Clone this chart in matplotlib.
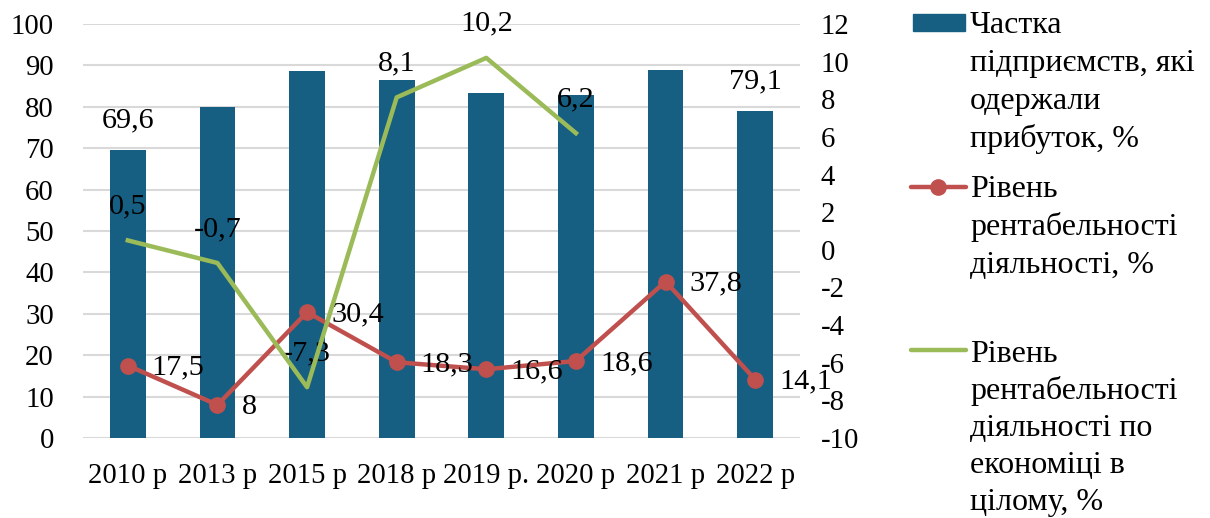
import matplotlib
matplotlib.use("Agg")
import matplotlib.pyplot as plt
from matplotlib.patches import Rectangle
from matplotlib.lines import Line2D
import numpy as np

plt.rcParams['font.family'] = ['Liberation Serif', 'DejaVu Serif']
plt.rcParams['axes.unicode_minus'] = False

categories = ["2010 р", "2013 р", "2015 р", "2018 р", "2019 р.", "2020 р", "2021 р", "2022 р"]
share_profitable = [69.6, 80.0, 88.7, 86.5, 83.3, 82.9, 88.8, 79.1]
share_labels = ["69,6", "", "", "", "", "", "", "79,1"]
profitability = [17.5, 8.0, 30.4, 18.3, 16.6, 18.6, 37.8, 14.1]
profitability_labels = ["17,5", "8", "30,4", "18,3", "16,6", "18,6", "37,8", "14,1"]
economy = [0.5, -0.7, -7.3, 8.1, 10.2, 6.2]
economy_labels = ["0,5", "-0,7", "-7,3", "8,1", "10,2", "6,2"]

legend_bar = ["Частка", "підприємств, які", "одержали", "прибуток, %"]
legend_red = ["Рівень", "рентабельності", "діяльності, %"]
legend_green = ["Рівень", "рентабельності", "діяльності по", "економіці в", "цілому, %"]

BAR = "#175f82"
RED = "#c0504d"
GREEN = "#9bbb59"
FS_TICK = 20.7
FS_LAB = 21.8
FS_LEG = 23

W, H = 1210, 518
fig = plt.figure(figsize=(W / 100, H / 100), dpi=100)
ax = fig.add_axes([83 / W, 1 - 438 / H, (800 - 83) / W, (438 - 24) / H])
ax2 = ax.twinx()

x = np.arange(len(categories))
ax.bar(x, share_profitable, width=0.4, color=BAR, zorder=2)
ax.set_xlim(-0.5, len(categories) - 0.5)
ax.set_ylim(0, 100)
ax.set_yticks(np.arange(0, 101, 10))
ax.grid(axis='y', color='#d9d9d9', linewidth=1.5, zorder=0)
ax.set_axisbelow(True)
ax.set_xticks(x)
ax.set_xticklabels(categories, fontsize=FS_TICK)
ax.tick_params(axis='y', labelsize=FS_TICK, length=0, pad=21)
ax.tick_params(axis='x', length=0, pad=18)
for s in ax.spines.values():
    s.set_visible(False)
for s in ax2.spines.values():
    s.set_visible(False)

ax.plot(x, profitability, color=RED, linewidth=3.2, marker='o', markersize=11, zorder=3)

ax2.plot(x[:len(economy)], economy, color=GREEN, linewidth=3.2, zorder=3)
ax2.set_ylim(-10, 12)
ax2.set_yticks(np.arange(-10, 13, 2))
ax2.tick_params(axis='y', labelsize=FS_TICK, length=0, pad=15)

for i, (v, t) in enumerate(zip(share_profitable, share_labels)):
    if t:
        ax.annotate(t, (x[i], v), xytext=(0, 29), textcoords='offset pixels',
                    ha='center', va='center', fontsize=FS_LAB, zorder=5)

for i, (v, t) in enumerate(zip(profitability, profitability_labels)):
    ax.annotate(t, (x[i], v), xytext=(24, -2), textcoords='offset pixels',
                ha='left', va='center', fontsize=FS_LAB, zorder=5)

for i, (v, t) in enumerate(zip(economy, economy_labels)):
    ax2.annotate(t, (x[i], v), xytext=(0, 34), textcoords='offset pixels',
                 ha='center', va='center', fontsize=FS_LAB, zorder=1)

# legend (manual, in figure pixel coords)
def fx(px):
    return px / W

def fy(py):
    return 1 - py / H

fig.add_artist(Rectangle((fx(913), fy(31)), fx(965) - fx(913), fy(14) - fy(31),
                         transform=fig.transFigure, color=BAR))
fig.add_artist(Line2D([fx(911), fx(966)], [fy(187), fy(187)], transform=fig.transFigure,
                      color=RED, linewidth=3.2, solid_capstyle='round'))
fig.add_artist(Line2D([fx(938)], [fy(187)], transform=fig.transFigure,
                      color=RED, marker='o', markersize=11, linestyle='none'))
fig.add_artist(Line2D([fx(911), fx(966)], [fy(350), fy(350)], transform=fig.transFigure,
                      color=GREEN, linewidth=3.2, solid_capstyle='round'))

for lines, baselines in ((legend_bar, [33, 71, 109, 147]),
                         (legend_red, [197, 235, 273]),
                         (legend_green, [362, 399, 436, 473, 510])):
    for t, b in zip(lines, baselines):
        fig.text(fx(970), fy(b), t, fontsize=FS_LEG, ha='left', va='baseline')

fig.savefig("out.png", dpi=100)
